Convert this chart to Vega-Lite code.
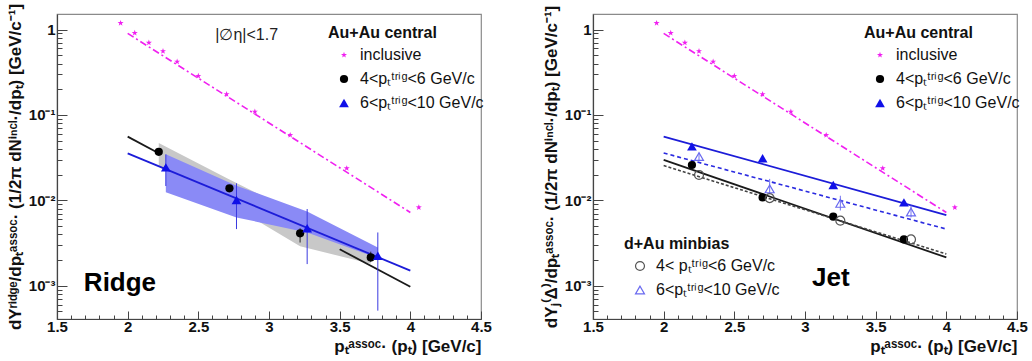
{
  "$schema": "https://vega.github.io/schema/vega-lite/v6.json",
  "background": "white",
  "padding": {"left": 5, "right": 4, "top": 2, "bottom": 2},
  "bounds": "flush",
  "spacing": 112,
  "config": {
    "font": "Liberation Sans",
    "view": {"stroke": "#8a8a8a", "strokeWidth": 1.2},
    "axis": {
      "domainColor": "#444", "domainWidth": 1.2, "tickColor": "#444", "tickWidth": 1,
      "labelFont": "Liberation Sans", "labelFontWeight": "bold", "labelFontSize": 15, "labelColor": "#111",
      "titleFont": "Liberation Sans", "titleFontWeight": "bold", "titleFontSize": 17, "titleColor": "#111",
      "grid": false, "labelOverlap": false, "labelFlush": false
    },
    "legend": {
      "titleFont": "Liberation Sans", "titleFontWeight": "bold", "titleFontSize": 16, "titleColor": "#111",
      "labelFont": "Liberation Sans", "labelFontSize": 16, "labelColor": "#111",
      "padding": 0, "rowPadding": 8, "titlePadding": 6, "symbolOffset": 8, "labelOffset": 8, "symbolStrokeWidth": 1.2
    }
  },
  "resolve": {"scale": {"color": "independent", "shape": "independent", "size": "independent"}},
  "datasets": {
    "inclFit": [{"x": 2.0, "y": 0.9}, {"x": 4.0, "y": 0.0072}],
    "ridgePts": [
      {"series": "inclusive", "x": 1.95, "y": 1.19}, {"series": "inclusive", "x": 2.05, "y": 0.91},
      {"series": "inclusive", "x": 2.15, "y": 0.70}, {"series": "inclusive", "x": 2.25, "y": 0.557},
      {"series": "inclusive", "x": 2.35, "y": 0.42}, {"series": "inclusive", "x": 2.5, "y": 0.286},
      {"series": "inclusive", "x": 2.7, "y": 0.175}, {"series": "inclusive", "x": 2.9, "y": 0.109},
      {"series": "inclusive", "x": 3.15, "y": 0.058}, {"series": "inclusive", "x": 3.55, "y": 0.0237},
      {"series": "inclusive", "x": 4.06, "y": 0.00826},
      {"series": "4<pₜᵗʳⁱᵍ<6 GeV/c", "x": 2.22, "y": 0.037},
      {"series": "4<pₜᵗʳⁱᵍ<6 GeV/c", "x": 2.72, "y": 0.0138},
      {"series": "4<pₜᵗʳⁱᵍ<6 GeV/c", "x": 3.22, "y": 0.0041},
      {"series": "4<pₜᵗʳⁱᵍ<6 GeV/c", "x": 3.72, "y": 0.00214},
      {"series": "6<pₜᵗʳⁱᵍ<10 GeV/c", "x": 2.27, "y": 0.0243},
      {"series": "6<pₜᵗʳⁱᵍ<10 GeV/c", "x": 2.77, "y": 0.0101},
      {"series": "6<pₜᵗʳⁱᵍ<10 GeV/c", "x": 3.27, "y": 0.0047},
      {"series": "6<pₜᵗʳⁱᵍ<10 GeV/c", "x": 3.77, "y": 0.00224}
    ],
    "ridgeGrayBand": [
      {"x": 2.22, "y": 0.047, "y2": 0.025}, {"x": 2.72, "y": 0.0175, "y2": 0.009},
      {"x": 3.22, "y": 0.0068, "y2": 0.0029}, {"x": 3.72, "y": 0.0028, "y2": 0.0018}
    ],
    "ridgeBlueBand": [
      {"x": 2.27, "y": 0.0345, "y2": 0.0124}, {"x": 2.77, "y": 0.0148, "y2": 0.0063},
      {"x": 3.27, "y": 0.0074, "y2": 0.0042}, {"x": 3.77, "y": 0.0028, "y2": 0.0021}
    ],
    "ridgeBlackFit": [
      {"seg": "a", "x": 2.0, "y": 0.0557}, {"seg": "a", "x": 2.22, "y": 0.0356},
      {"seg": "b", "x": 3.5, "y": 0.00267}, {"seg": "b", "x": 4.0, "y": 0.00097}
    ],
    "ridgeBlueFit": [{"x": 2.0, "y": 0.0355}, {"x": 4.0, "y": 0.0015}],
    "ridgeBlueErr": [
      {"x": 2.27, "y": 0.0345, "y2": 0.0147}, {"x": 2.77, "y": 0.0158, "y2": 0.0046},
      {"x": 3.27, "y": 0.0079, "y2": 0.00179}, {"x": 3.77, "y": 0.0042, "y2": 0.00051}
    ],
    "ridgeBlackErr": [
      {"x": 3.22, "y": 0.0047, "y2": 0.0032}, {"x": 3.72, "y": 0.0025, "y2": 0.0019}
    ],
    "ridgeCut": [{"x": 2.62, "y": 0.87, "text": "|∅η|<1.7"}],
    "ridgeName": [{"x": 1.69, "y": 0.00108, "text": "Ridge"}],
    "jetPts": [
      {"series": "inclusive", "x": 1.95, "y": 1.19}, {"series": "inclusive", "x": 2.05, "y": 0.91},
      {"series": "inclusive", "x": 2.15, "y": 0.70}, {"series": "inclusive", "x": 2.25, "y": 0.557},
      {"series": "inclusive", "x": 2.35, "y": 0.42}, {"series": "inclusive", "x": 2.5, "y": 0.286},
      {"series": "inclusive", "x": 2.7, "y": 0.175}, {"series": "inclusive", "x": 2.9, "y": 0.109},
      {"series": "inclusive", "x": 3.15, "y": 0.058}, {"series": "inclusive", "x": 3.55, "y": 0.0237},
      {"series": "inclusive", "x": 4.06, "y": 0.00826},
      {"series": "4<pₜᵗʳⁱᵍ<6 GeV/c", "x": 2.2, "y": 0.0259},
      {"series": "4<pₜᵗʳⁱᵍ<6 GeV/c", "x": 2.7, "y": 0.0108},
      {"series": "4<pₜᵗʳⁱᵍ<6 GeV/c", "x": 3.2, "y": 0.00642},
      {"series": "4<pₜᵗʳⁱᵍ<6 GeV/c", "x": 3.7, "y": 0.00348},
      {"series": "6<pₜᵗʳⁱᵍ<10 GeV/c", "x": 2.2, "y": 0.0428},
      {"series": "6<pₜᵗʳⁱᵍ<10 GeV/c", "x": 2.7, "y": 0.031},
      {"series": "6<pₜᵗʳⁱᵍ<10 GeV/c", "x": 3.2, "y": 0.0151},
      {"series": "6<pₜᵗʳⁱᵍ<10 GeV/c", "x": 3.7, "y": 0.00945}
    ],
    "dAuPts": [
      {"series": "4< pₜᵗʳⁱᵍ<6 GeV/c", "x": 2.25, "y": 0.0198},
      {"series": "4< pₜᵗʳⁱᵍ<6 GeV/c", "x": 2.75, "y": 0.0106},
      {"series": "4< pₜᵗʳⁱᵍ<6 GeV/c", "x": 3.25, "y": 0.00577},
      {"series": "4< pₜᵗʳⁱᵍ<6 GeV/c", "x": 3.75, "y": 0.00348},
      {"series": "6<pₜᵗʳⁱᵍ<10 GeV/c", "x": 2.25, "y": 0.0325},
      {"series": "6<pₜᵗʳⁱᵍ<10 GeV/c", "x": 2.75, "y": 0.0136},
      {"series": "6<pₜᵗʳⁱᵍ<10 GeV/c", "x": 3.25, "y": 0.0092},
      {"series": "6<pₜᵗʳⁱᵍ<10 GeV/c", "x": 3.75, "y": 0.0073}
    ],
    "dAuTriErr": [
      {"x": 2.25, "y": 0.036, "y2": 0.029}, {"x": 2.75, "y": 0.0178, "y2": 0.0119},
      {"x": 3.25, "y": 0.0113, "y2": 0.0076}, {"x": 3.75, "y": 0.0087, "y2": 0.0063}
    ],
    "jetBlueFit": [{"x": 2.0, "y": 0.0557}, {"x": 4.0, "y": 0.00672}],
    "jetBlueDashFit": [{"x": 2.0, "y": 0.0358}, {"x": 4.0, "y": 0.0046}],
    "jetBlackFit": [{"x": 2.0, "y": 0.0297}, {"x": 4.0, "y": 0.00214}],
    "jetBlackDashFit": [{"x": 2.0, "y": 0.0255}, {"x": 4.0, "y": 0.00235}],
    "jetName": [{"x": 3.05, "y": 0.00124, "text": "Jet"}]
  },
  "hconcat": [
    {
      "width": 424, "height": 305,
      "encoding": {
        "x": {"field": "x", "type": "quantitative", "title": "pₜᵃˢˢᵒᶜ· (pₜ) [GeV/c]",
          "scale": {"domain": [1.5, 4.5], "nice": false, "zero": false},
          "axis": {"values": [1.5,1.6,1.7,1.8,1.9,2,2.1,2.2,2.3,2.4,2.5,2.6,2.7,2.8,2.9,3,3.1,3.2,3.3,3.4,3.5,3.6,3.7,3.8,3.9,4,4.1,4.2,4.3,4.4,4.5],
            "format": ".2~f",
            "labelExpr": "abs(datum.value*2-round(datum.value*2))<0.001 ? datum.label : ''",
            "tickSize": {"condition": {"test": "abs(datum.value*2-round(datum.value*2))<0.001", "value": -8}, "value": -4},
            "labelPadding": 8, "titleAnchor": "end", "titlePadding": 0}},
        "y": {"field": "y", "type": "quantitative",
          "title": "dYʳⁱᵈᵍᵉ/dpₜᵃˢˢᵒᶜ· (1/2π dNⁱⁿᶜˡ·/dpₜ) [GeV/c⁻¹]",
          "scale": {"type": "log", "domain": [0.000407, 1.52], "nice": false},
          "axis": {"values": [0.0005,0.0006,0.0007,0.0008,0.0009,0.001,0.002,0.003,0.004,0.005,0.006,0.007,0.008,0.009,0.01,0.02,0.03,0.04,0.05,0.06,0.07,0.08,0.09,0.1,0.2,0.3,0.4,0.5,0.6,0.7,0.8,0.9,1],
            "labelExpr": "abs(datum.value-1)<1e-6 ? '1' : abs(datum.value-0.1)<1e-7 ? '10⁻¹' : abs(datum.value-0.01)<1e-8 ? '10⁻²' : abs(datum.value-0.001)<1e-9 ? '10⁻³' : ''",
            "tickSize": {"condition": {"test": "abs(log(datum.value)/LN10-round(log(datum.value)/LN10))<0.001", "value": -10}, "value": -5},
            "labelPadding": 12, "titlePadding": 4}}
      },
      "layer": [
        {"data": {"name": "ridgeGrayBand"}, "mark": {"type": "area", "color": "#c8c8c8", "opacity": 1}, "encoding": {"y2": {"field": "y2"}}},
        {"data": {"name": "ridgeBlueBand"}, "mark": {"type": "area", "color": "#8a8af6", "opacity": 1}, "encoding": {"y2": {"field": "y2"}}},
        {"data": {"name": "ridgeBlackFit"}, "mark": {"type": "line", "color": "#1a1a1a", "strokeWidth": 1.8}, "encoding": {"detail": {"field": "seg"}}},
        {"data": {"name": "ridgeBlueFit"}, "mark": {"type": "line", "color": "#1c1cd8", "strokeWidth": 1.8}, "encoding": {}},
        {"data": {"name": "inclFit"}, "mark": {"type": "line", "color": "#f020f0", "strokeWidth": 1.6, "strokeDash": [7, 3, 2, 3]}, "encoding": {}},
        {"data": {"name": "ridgeBlueErr"}, "mark": {"type": "rule", "color": "#3a3ae0", "strokeWidth": 1}, "encoding": {"y2": {"field": "y2"}}},
        {"data": {"name": "ridgeBlackErr"}, "mark": {"type": "rule", "color": "#222", "strokeWidth": 1}, "encoding": {"y2": {"field": "y2"}}},
        {"data": {"name": "ridgePts"}, "mark": {"type": "point", "filled": true, "opacity": 1},
          "encoding": {
            "color": {"field": "series", "type": "nominal",
              "scale": {"domain": ["inclusive", "4<pₜᵗʳⁱᵍ<6 GeV/c", "6<pₜᵗʳⁱᵍ<10 GeV/c"], "range": ["#f020f0", "#000000", "#1010e8"]},
              "legend": {"orient": "none", "legendX": 271, "legendY": 11, "title": "Au+Au central"}},
            "shape": {"field": "series", "type": "nominal",
              "scale": {"domain": ["inclusive", "4<pₜᵗʳⁱᵍ<6 GeV/c", "6<pₜᵗʳⁱᵍ<10 GeV/c"], "range": ["M0,-1L0.235,-0.324L0.951,-0.309L0.38,0.124L0.588,0.809L0,0.4L-0.588,0.809L-0.38,0.124L-0.951,-0.309L-0.235,-0.324Z", "circle", "triangle-up"]}},
            "size": {"field": "series", "type": "nominal",
              "scale": {"domain": ["inclusive", "4<pₜᵗʳⁱᵍ<6 GeV/c", "6<pₜᵗʳⁱᵍ<10 GeV/c"], "range": [40, 95, 80]}}
          }},
        {"data": {"name": "ridgeCut"}, "mark": {"type": "text", "align": "left", "baseline": "middle", "fontSize": 16, "color": "#222"}, "encoding": {"text": {"field": "text"}}},
        {"data": {"name": "ridgeName"}, "mark": {"type": "text", "align": "left", "baseline": "middle", "fontSize": 26, "fontWeight": "bold", "color": "#000"}, "encoding": {"text": {"field": "text"}}}
      ]
    },
    {
      "width": 424, "height": 305,
      "resolve": {"scale": {"color": "independent", "shape": "independent", "size": "independent"}},
      "encoding": {
        "x": {"field": "x", "type": "quantitative", "title": "pₜᵃˢˢᵒᶜ· (pₜ) [GeV/c]",
          "scale": {"domain": [1.5, 4.5], "nice": false, "zero": false},
          "axis": {"values": [1.5,1.6,1.7,1.8,1.9,2,2.1,2.2,2.3,2.4,2.5,2.6,2.7,2.8,2.9,3,3.1,3.2,3.3,3.4,3.5,3.6,3.7,3.8,3.9,4,4.1,4.2,4.3,4.4,4.5],
            "format": ".2~f",
            "labelExpr": "abs(datum.value*2-round(datum.value*2))<0.001 ? datum.label : ''",
            "tickSize": {"condition": {"test": "abs(datum.value*2-round(datum.value*2))<0.001", "value": -8}, "value": -4},
            "labelPadding": 8, "titleAnchor": "end", "titlePadding": 0}},
        "y": {"field": "y", "type": "quantitative",
          "title": "dYⱼ⁽Δ⁾/dpₜᵃˢˢᵒᶜ· (1/2π dNⁱⁿᶜˡ·/dpₜ) [GeV/c⁻¹]",
          "scale": {"type": "log", "domain": [0.000407, 1.52], "nice": false},
          "axis": {"values": [0.0005,0.0006,0.0007,0.0008,0.0009,0.001,0.002,0.003,0.004,0.005,0.006,0.007,0.008,0.009,0.01,0.02,0.03,0.04,0.05,0.06,0.07,0.08,0.09,0.1,0.2,0.3,0.4,0.5,0.6,0.7,0.8,0.9,1],
            "labelExpr": "abs(datum.value-1)<1e-6 ? '1' : abs(datum.value-0.1)<1e-7 ? '10⁻¹' : abs(datum.value-0.01)<1e-8 ? '10⁻²' : abs(datum.value-0.001)<1e-9 ? '10⁻³' : ''",
            "tickSize": {"condition": {"test": "abs(log(datum.value)/LN10-round(log(datum.value)/LN10))<0.001", "value": -10}, "value": -5},
            "labelPadding": 12, "titlePadding": 4}}
      },
      "layer": [
        {"data": {"name": "jetBlueFit"}, "mark": {"type": "line", "color": "#1c1cd8", "strokeWidth": 1.8}, "encoding": {}},
        {"data": {"name": "jetBlueDashFit"}, "mark": {"type": "line", "color": "#2a2ae0", "strokeWidth": 1.6, "strokeDash": [4, 3]}, "encoding": {}},
        {"data": {"name": "jetBlackFit"}, "mark": {"type": "line", "color": "#1a1a1a", "strokeWidth": 1.8}, "encoding": {}},
        {"data": {"name": "jetBlackDashFit"}, "mark": {"type": "line", "color": "#444", "strokeWidth": 1.6, "strokeDash": [3, 2]}, "encoding": {}},
        {"data": {"name": "inclFit"}, "mark": {"type": "line", "color": "#f020f0", "strokeWidth": 1.6, "strokeDash": [7, 3, 2, 3]}, "encoding": {}},
        {"data": {"name": "dAuTriErr"}, "mark": {"type": "rule", "color": "#7070f0", "strokeWidth": 1}, "encoding": {"y2": {"field": "y2"}}},
        {"data": {"name": "jetPts"}, "mark": {"type": "point", "filled": true, "opacity": 1},
          "encoding": {
            "color": {"field": "series", "type": "nominal",
              "scale": {"domain": ["inclusive", "4<pₜᵗʳⁱᵍ<6 GeV/c", "6<pₜᵗʳⁱᵍ<10 GeV/c"], "range": ["#f020f0", "#000000", "#1010e8"]},
              "legend": {"orient": "none", "legendX": 271, "legendY": 11, "title": "Au+Au central"}},
            "shape": {"field": "series", "type": "nominal",
              "scale": {"domain": ["inclusive", "4<pₜᵗʳⁱᵍ<6 GeV/c", "6<pₜᵗʳⁱᵍ<10 GeV/c"], "range": ["M0,-1L0.235,-0.324L0.951,-0.309L0.38,0.124L0.588,0.809L0,0.4L-0.588,0.809L-0.38,0.124L-0.951,-0.309L-0.235,-0.324Z", "circle", "triangle-up"]}},
            "size": {"field": "series", "type": "nominal",
              "scale": {"domain": ["inclusive", "4<pₜᵗʳⁱᵍ<6 GeV/c", "6<pₜᵗʳⁱᵍ<10 GeV/c"], "range": [40, 95, 80]}}
          }},
        {"data": {"name": "dAuPts"}, "mark": {"type": "point", "filled": false, "opacity": 1, "strokeWidth": 1.2},
          "encoding": {
            "color": {"field": "series", "type": "nominal",
              "scale": {"domain": ["4< pₜᵗʳⁱᵍ<6 GeV/c", "6<pₜᵗʳⁱᵍ<10 GeV/c"], "range": ["#555555", "#6a6af0"]},
              "legend": {"orient": "none", "legendX": 31, "legendY": 222, "title": "d+Au minbias"}},
            "shape": {"field": "series", "type": "nominal",
              "scale": {"domain": ["4< pₜᵗʳⁱᵍ<6 GeV/c", "6<pₜᵗʳⁱᵍ<10 GeV/c"], "range": ["circle", "triangle-up"]}},
            "size": {"field": "series", "type": "nominal",
              "scale": {"domain": ["4< pₜᵗʳⁱᵍ<6 GeV/c", "6<pₜᵗʳⁱᵍ<10 GeV/c"], "range": [80, 80]}}
          }},
        {"data": {"name": "jetName"}, "mark": {"type": "text", "align": "left", "baseline": "middle", "fontSize": 26, "fontWeight": "bold", "color": "#000"}, "encoding": {"text": {"field": "text"}}}
      ]
    }
  ]
}
